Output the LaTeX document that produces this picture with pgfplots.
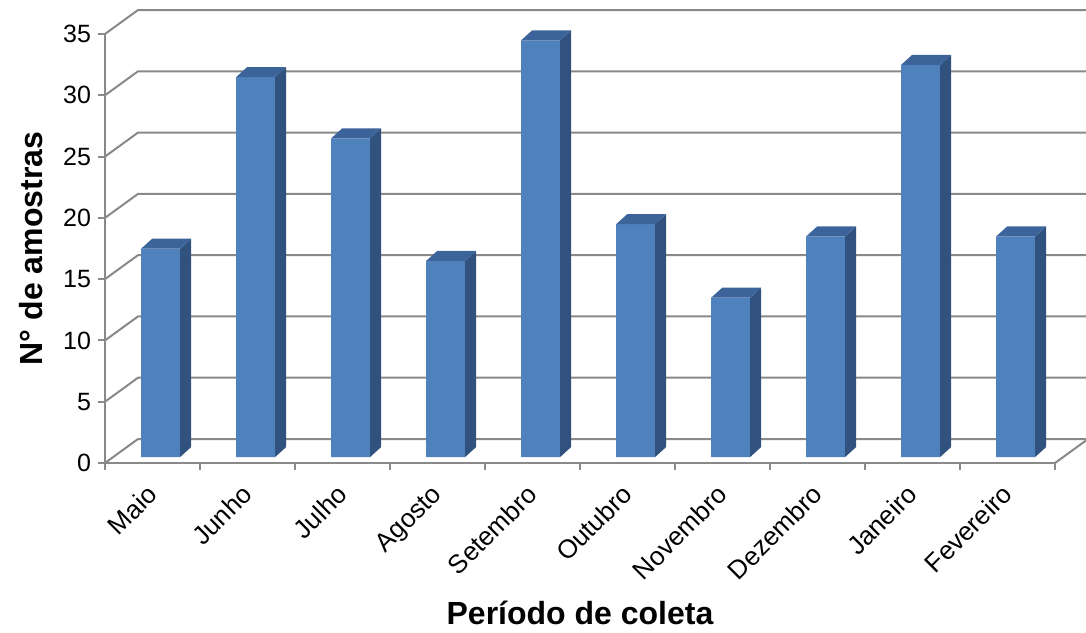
\documentclass[border=0pt]{standalone}
\usepackage{fontspec}
\setmainfont{Liberation Sans}
\usepackage{pgfplots}
\usepackage{pgfplotstable}
\pgfplotsset{compat=1.18}

\definecolor{barfront}{HTML}{4F81BD}
\definecolor{barside}{HTML}{31527E}
\definecolor{bartop}{HTML}{3D649A}
\definecolor{gridgray}{HTML}{898989}

% number of samples per collection month
\pgfplotstableread{
idx n
0 17
1 31
2 26
3 16
4 34
5 19
6 13
7 18
8 32
9 18
}\amostras

\begin{document}
\begin{tikzpicture}[font=\fontsize{12.5}{15}\selectfont]
\begin{axis}[
  scale only axis, width=475pt, height=214.5pt,
  xmin=0, xmax=10, ymin=0, ymax=35,
  clip=false,
  axis x line*=bottom, axis y line*=left,
  axis line style={-, gridgray, line width=1pt},
  tick style={gridgray, line width=1pt},
  major tick length=3.5pt, tick align=outside,
  /pgf/number format/assume math mode=true,
  ytick={0,5,...,35},
  xtick={0,...,10}, xticklabels={},
  extra x ticks={0.5,1.5,...,9.5},
  extra x tick labels={Maio,Junho,Julho,Agosto,Setembro,Outubro,Novembro,Dezembro,Janeiro,Fevereiro},
  extra x tick style={major tick length=0pt,
    tick label style={font=\fontsize{13}{15}\selectfont,
      xshift=-3.6pt, yshift=-5.1pt, rotate=45, anchor=north east}},
  xlabel={Período de coleta},
  ylabel={N° de amostras},
  label style={font=\bfseries\fontsize{16}{19}\selectfont},
  xlabel style={at={(axis description cs:0.5,-0.35)}, anchor=center},
  ylabel style={at={(axis description cs:-0.078,0.5)}, anchor=center, rotate=0},
]
\coordinate (o) at (rel axis cs:0,0);
% back wall and floor of the 3-D frame
\pgfplotsinvokeforeach{0,5,...,35}{
  \draw[gridgray, line width=1pt] (axis cs:0,#1) -- ([shift={(16.5pt,12pt)}]axis cs:0,#1) -- ([shift={(16.5pt,12pt)}]axis cs:10,#1);
}
\draw[gridgray, line width=1pt] (axis cs:10,0) -- ([shift={(16.5pt,12pt)}]axis cs:10,0);

% front faces of the columns
\addplot[ybar, bar width=0.41, fill=barfront, draw=none, shift={(4.1pt,3pt)}]
  table[x expr=\thisrow{idx}+0.5, y=n]{\amostras};

% side and top faces of the columns
\pgfplotsinvokeforeach{0,...,9}{
  \pgfplotstablegetelem{#1}{n}\of\amostras
  \edef\faces{%
    \noexpand\fill[barside] ([shift={(13.84pt,3pt)}]axis cs:#1.5,0) -- ([shift={(13.84pt,3pt)}]axis cs:#1.5,\pgfplotsretval) -- ([shift={(19.34pt,8pt)}]axis cs:#1.5,\pgfplotsretval) -- ([shift={(19.34pt,8pt)}]axis cs:#1.5,0) -- cycle;
    \noexpand\fill[bartop] ([shift={(-5.64pt,3pt)}]axis cs:#1.5,\pgfplotsretval) -- ([shift={(13.84pt,3pt)}]axis cs:#1.5,\pgfplotsretval) -- ([shift={(19.34pt,8pt)}]axis cs:#1.5,\pgfplotsretval) -- ([shift={(-0.14pt,8pt)}]axis cs:#1.5,\pgfplotsretval) -- cycle;
  }
  \faces
}
\end{axis}
\pgfresetboundingbox
\path ([shift={(-52.5pt,-84.5pt)}]o) rectangle ([shift={(490.5pt,231.5pt)}]o);
\end{tikzpicture}
\end{document}
